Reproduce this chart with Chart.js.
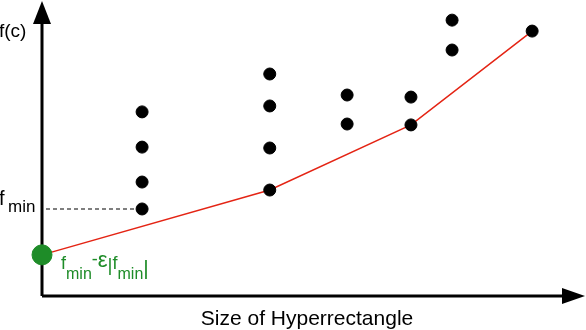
<!DOCTYPE html>
<html>
<head>
<meta charset="utf-8">
<script src="https://cdn.jsdelivr.net/npm/chart.js@4"></script>
<style>
  html, body { margin: 0; padding: 0; background: #fff; }
  #wrap { width: 586px; height: 330px; }
</style>
</head>
<body>
<div id="wrap"><canvas id="myChart"></canvas></div>
<script>
'use strict';

// Data (arbitrary units, size on x, f(c) on y)
let sizes = [18.5, 18.5, 18.5, 18.5, 42.1, 42.1, 42.1, 42.1, 56.4, 56.4, 68.2, 68.2, 75.8, 75.8, 90.6];
let fValues = [62.2, 50.3, 38.5, 29.4, 75.0, 64.2, 50.0, 35.8, 67.9, 58.1, 67.2, 57.8, 93.2, 83.1, 89.5];
let hullSizes = [0, 42.1, 68.2, 90.6];
let hullValues = [13.9, 35.8, 57.8, 89.5];
let fMin = { x: 18.5, y: 29.4 };
let lowerBound = { x: 0, y: 13.9 };

let FONT = 'Liberation Sans, Arial, sans-serif';

function toPoints(xs, ys) {
  let pts = [];
  for (let i = 0; i < xs.length; i++) {
    pts.push({ x: xs[i], y: ys[i] });
  }
  return pts;
}

// text pieces: [text, font size, baseline]
function drawPieces(ctx, x, pieces) {
  for (let i = 0; i < pieces.length; i++) {
    ctx.font = pieces[i][1] + 'px ' + FONT;
    ctx.fillText(pieces[i][0], x, pieces[i][2]);
    x += ctx.measureText(pieces[i][0]).width;
  }
}

// draw axes, arrows and labels
let decorPlugin = {
  id: 'decor',
  beforeDatasetsDraw(chart) {
    let ctx = chart.ctx;
    let area = chart.chartArea;
    let xs = chart.scales.x;
    let ys = chart.scales.y;
    ctx.save();

    // dashed line to f_min
    ctx.strokeStyle = '#000';
    ctx.lineWidth = 1.2;
    ctx.setLineDash([4, 3]);
    ctx.beginPath();
    ctx.moveTo(area.left + 4, ys.getPixelForValue(fMin.y));
    ctx.lineTo(xs.getPixelForValue(fMin.x), ys.getPixelForValue(fMin.y));
    ctx.stroke();
    ctx.setLineDash([]);

    // axes
    ctx.lineWidth = 3;
    ctx.beginPath();
    ctx.moveTo(area.left, area.bottom);
    ctx.lineTo(area.left, area.top + 20);
    ctx.moveTo(area.left, area.bottom);
    ctx.lineTo(area.right - 18, area.bottom);
    ctx.stroke();

    ctx.fillStyle = '#000';
    ctx.beginPath();
    ctx.moveTo(area.left, area.top + 1);
    ctx.lineTo(area.left - 9, area.top + 24);
    ctx.lineTo(area.left + 9, area.top + 24);
    ctx.closePath();
    ctx.fill();
    ctx.beginPath();
    ctx.moveTo(area.right + 2, area.bottom);
    ctx.lineTo(area.right - 21, area.bottom - 8);
    ctx.lineTo(area.right - 21, area.bottom + 8);
    ctx.closePath();
    ctx.fill();

    // labels
    ctx.textBaseline = 'alphabetic';
    ctx.textAlign = 'left';
    ctx.font = '19px ' + FONT;
    ctx.fillText('f(c)', -1, 37);

    ctx.font = '20px ' + FONT;
    ctx.fillText('f', -1, 205);
    ctx.font = '17px ' + FONT;
    ctx.fillText('min', 8, 212);

    ctx.font = '21px ' + FONT;
    ctx.textAlign = 'center';
    ctx.fillText('Size of Hyperrectangle', 307, 325);

    // lower bound label
    ctx.textAlign = 'left';
    ctx.fillStyle = '#1e8c28';
    drawPieces(ctx, 61, [
      ['f', 18, 269], ['min', 16, 279], ['-', 18, 265], ['\u03b5', 22, 267],
      ['|', 19, 271], ['f', 18, 269], ['min', 16, 279], ['|', 21, 275]
    ]);
    ctx.restore();
  }
};

let ctx = document.getElementById('myChart').getContext('2d');
let myChart = new Chart(ctx, {
  type: 'scatter',
  data: {
    datasets: [{
      label: 'lower hull',
      data: toPoints(hullSizes, hullValues),
      showLine: true,
      borderColor: 'rgb(228, 36, 20)',
      borderWidth: 1.5,
      pointRadius: 0,
      clip: false,
      order: 2
    },
    {
      label: 'rectangles',
      data: toPoints(sizes, fValues),
      backgroundColor: '#000',
      borderColor: '#000',
      pointRadius: 6,
      clip: false,
      order: 1
    },
    {
      label: 'bound',
      data: [lowerBound],
      backgroundColor: '#1e8c28',
      borderColor: '#1e8c28',
      pointRadius: 10,
      clip: false,
      order: 0
    }]
  },
  options: {
    responsive: true,
    maintainAspectRatio: false,
    animation: false,
    events: [],
    layout: {
      autoPadding: false,
      padding: { left: 42, right: 3, top: 0, bottom: 34 }
    },
    plugins: {
      legend: { display: false },
      tooltip: { enabled: false }
    },
    scales: {
      x: { type: 'linear', min: 0, max: 100, display: false },
      y: { type: 'linear', min: 0, max: 100, display: false }
    }
  },
  plugins: [decorPlugin]
});
</script>
</body>
</html>
